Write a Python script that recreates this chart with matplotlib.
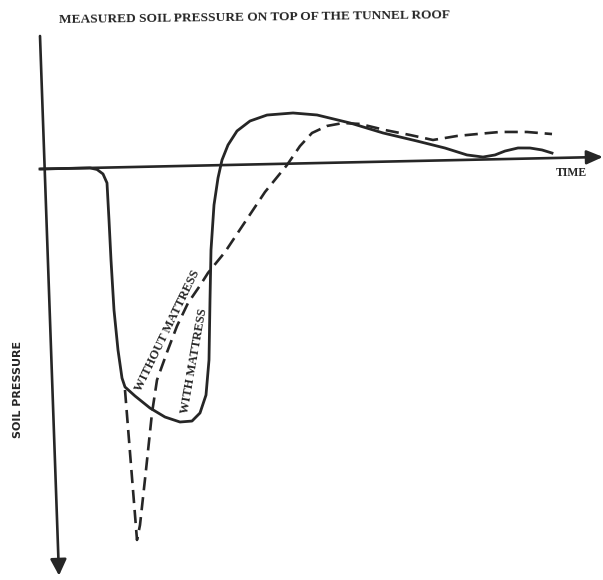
import matplotlib
matplotlib.use("Agg")
import matplotlib.pyplot as plt
from matplotlib.transforms import Affine2D

# time (arbitrary units along the time axis) and soil pressure (positive = downward)
with_t = [0, 50, 57, 63, 67, 69, 71, 74, 78, 82, 85, 95, 110, 125, 140, 152, 160, 166,
          169, 170, 171, 174, 178, 182, 188, 197, 210, 227, 253, 277, 310, 343, 377,
          405, 427, 443, 455, 465, 478, 490, 502, 512]
with_p = [0, 0, 1.7, 6.3, 15.4, 52.5, 92.5, 142.6, 182.7, 210.8, 219.8, 229, 241.4,
          250.7, 256, 255.3, 247.4, 229.6, 194.6, 134.6, 84.7, 39.7, 12.8, -5.1, -20,
          -33.8, -43.5, -49.1, -50.6, -48.1, -39.4, -28.7, -19.9, -12.3, -4.9, -2.5,
          -4.3, -8.0, -10.8, -10.5, -8.3, -5.0]

without_t = [85, 91, 97, 100, 106, 112, 117, 127, 137, 148, 160, 168, 185, 205, 225, 247,
             260, 272, 287, 303, 320, 345, 370, 393, 417, 437, 460, 487, 512]
without_p = [222.8, 298, 373, 358.1, 303.3, 246.4, 213.5, 186, 160, 137.2, 120, 107.5,
             87, 57.4, 27.8, 1.3, -17.4, -30.2, -36.9, -39.5, -38.2, -31.6, -26.1,
             -20.6, -24.1, -25.6, -27.2, -26.6, -24.0]

title = "MEASURED SOIL PRESSURE ON TOP OF THE TUNNEL ROOF"
xlabel = "TIME"
ylabel = "SOIL PRESSURE"
label_without = "WITHOUT MATTRESS"
label_with = "WITH MATTRESS"

ink = "#262626"

fig = plt.figure(figsize=(6.03, 5.80), dpi=100)
ax = fig.add_axes([0, 0, 1, 1])
ax.set_xlim(-40, 563)
ax.set_ylim(411, -169)
ax.axis("off")

# slight tilt of the scanned drawing
trans = Affine2D().from_values(1, -0.0214, 0, 1, 0, 0) + ax.transData

# axes
ax.annotate("", xy=(563, 0), xytext=(0, 0), xycoords=trans, textcoords=trans,
            arrowprops=dict(arrowstyle="-|>,head_length=0.7,head_width=0.3",
                            lw=1.9, color=ink, shrinkA=0, shrinkB=0, mutation_scale=14))
ax.annotate("", xy=(19, 407), xytext=(0, -133), xycoords=trans, textcoords=trans,
            arrowprops=dict(arrowstyle="-|>,head_length=0.7,head_width=0.35",
                            lw=1.9, color=ink, shrinkA=0, shrinkB=0, mutation_scale=14))

ax.plot(with_t, with_p, color=ink, lw=2.0, transform=trans, solid_joinstyle="round")
ax.plot(without_t, without_p, color=ink, lw=1.9, transform=trans,
        linestyle=(0, (5, 2.6)))

def px(x, y):
    return x / 603, 1 - y / 580

fig.text(*px(255, 18), title, ha="center", va="center", fontsize=9.6,
         family="Liberation Serif", weight="bold", color=ink, rotation=0.7)
fig.text(*px(571, 173), xlabel, ha="center", va="center", fontsize=8.5,
         family="Liberation Serif", weight="bold", color=ink)
fig.text(*px(18, 389), ylabel, ha="center", va="center", fontsize=8,
         family="DejaVu Sans", weight="bold", color=ink, rotation=90)
fig.text(*px(168, 331), label_without, ha="center", va="center", fontsize=9,
         family="Liberation Serif", weight="bold", color=ink, rotation=64)
fig.text(*px(194, 361), label_with, ha="center", va="center", fontsize=9,
         family="Liberation Serif", weight="bold", color=ink, rotation=80)

fig.savefig("out.png", dpi=100, facecolor="white")
